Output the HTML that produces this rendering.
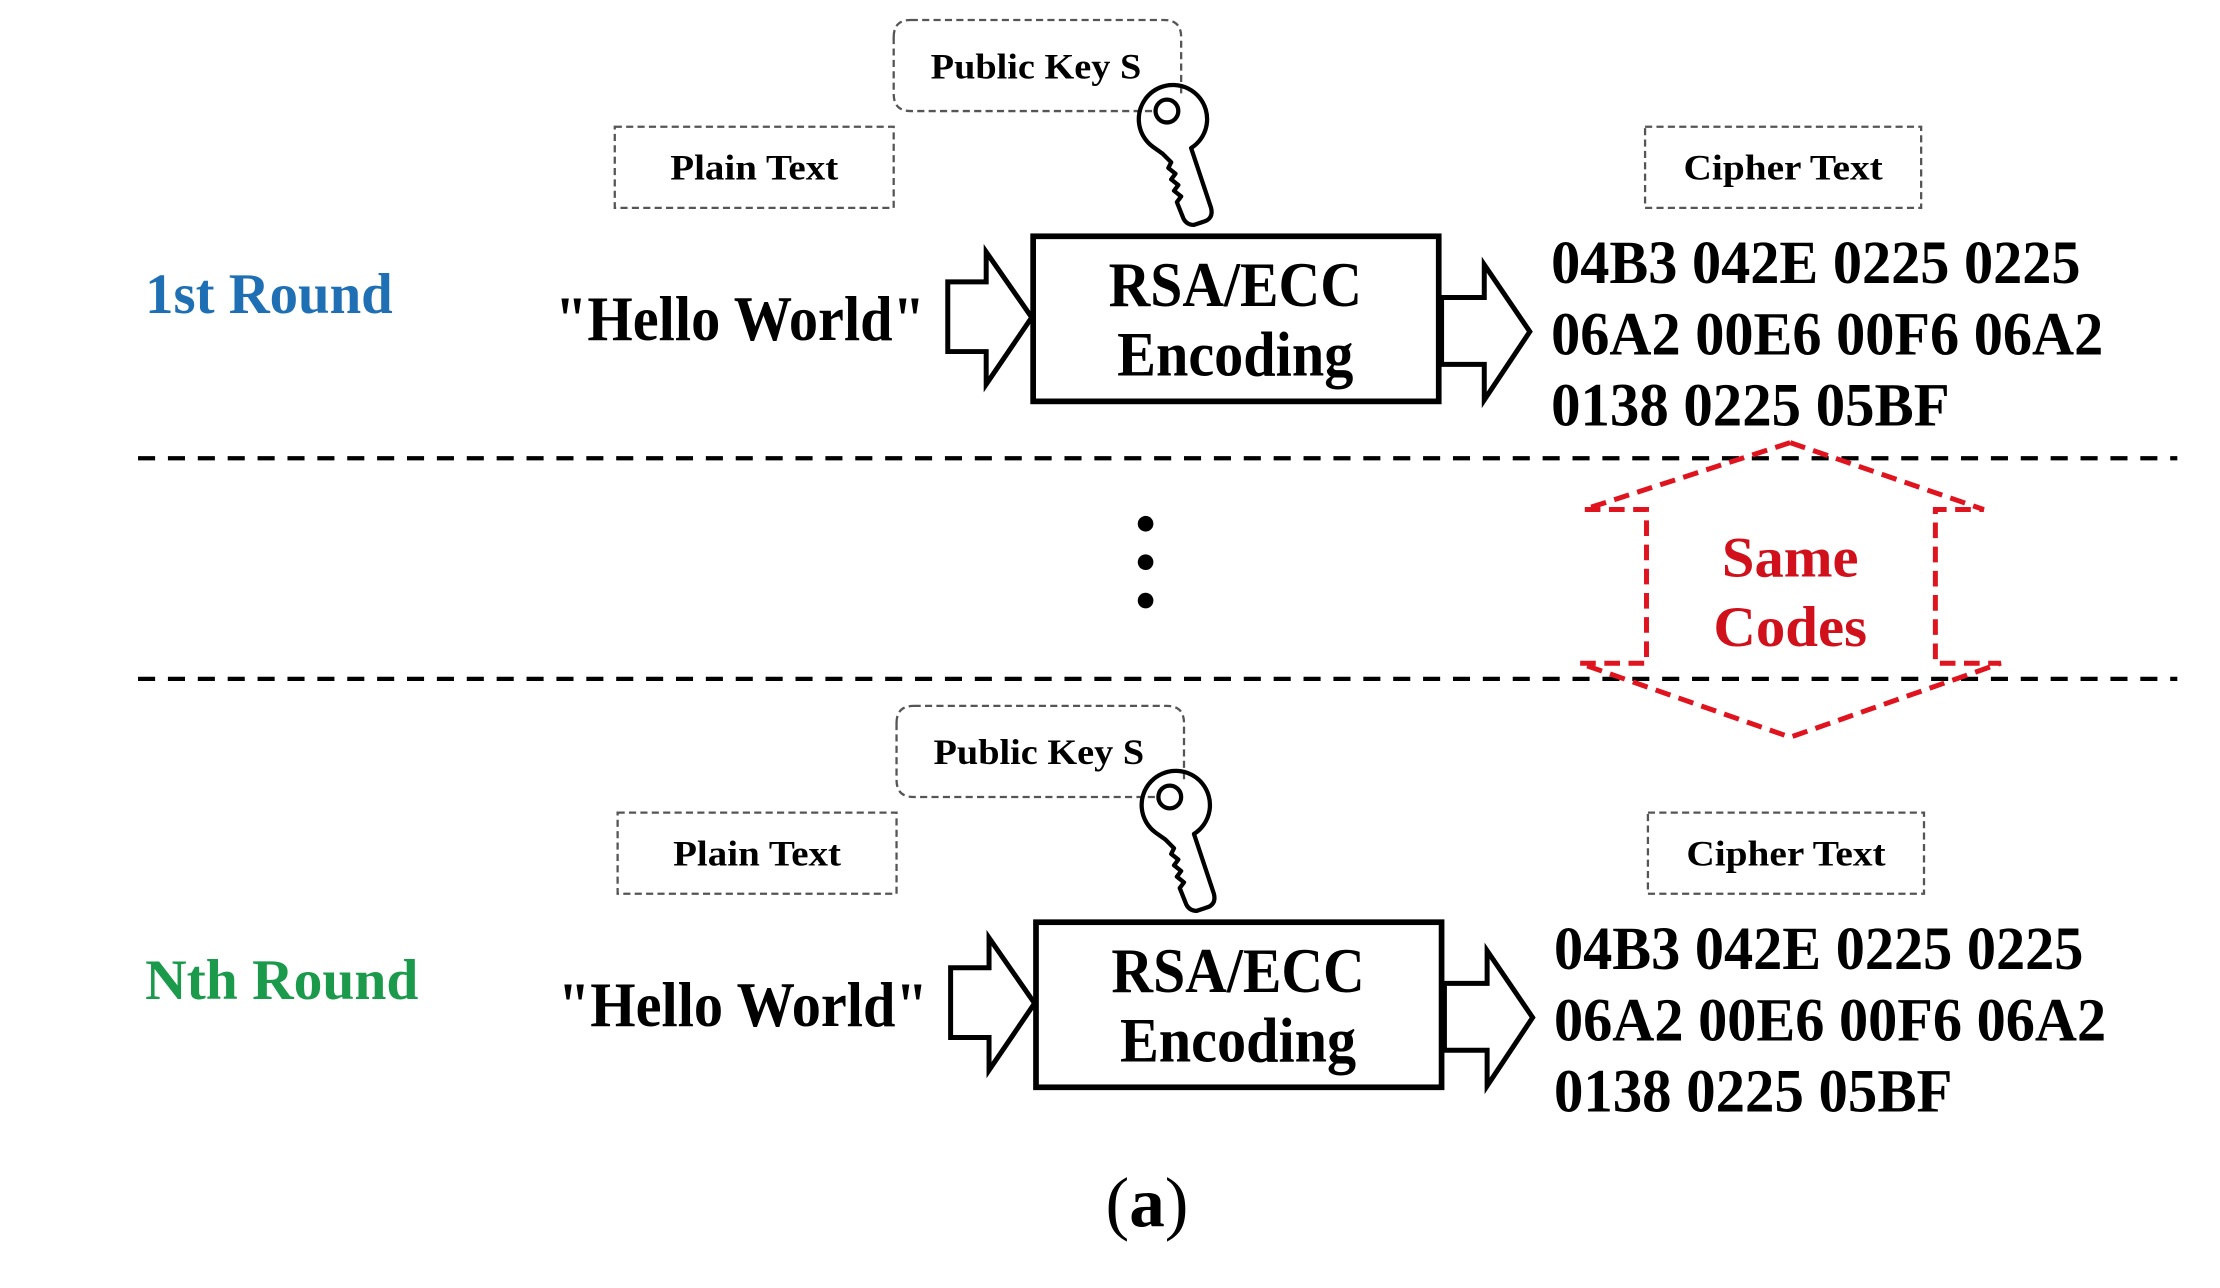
<!DOCTYPE html>
<html><head><meta charset="utf-8"><style>html,body{margin:0;padding:0;background:#fff}svg{display:block}</style></head>
<body>
<svg width="2220" height="1288" viewBox="0 0 1560 905" xmlns="http://www.w3.org/2000/svg">
<defs>
<g id="round">
  <path d="M640,14 H818 Q830,14 830,26 V66 M628,26 Q628,14 640,14 M628,26 V66 Q628,78 640,78 H812" fill="none" stroke="#555" stroke-width="1.6" stroke-dasharray="5,3"/>
  <text x="728" y="55" font-family="Liberation Serif" font-weight="bold" font-size="25" text-anchor="middle" textLength="148" lengthAdjust="spacingAndGlyphs">Public Key S</text>
  <rect x="432" y="89" width="196" height="57" fill="none" stroke="#555" stroke-width="1.6" stroke-dasharray="5,3"/>
  <text x="530" y="126" font-family="Liberation Serif" font-weight="bold" font-size="25" text-anchor="middle" textLength="118" lengthAdjust="spacingAndGlyphs">Plain Text</text>
  <rect x="1156" y="89" width="194" height="57" fill="none" stroke="#555" stroke-width="1.6" stroke-dasharray="5,3"/>
  <text x="1253" y="126" font-family="Liberation Serif" font-weight="bold" font-size="25" text-anchor="middle" textLength="140" lengthAdjust="spacingAndGlyphs">Cipher Text</text>
  <g fill="none" stroke="#000" stroke-width="3" stroke-linejoin="round">
    <path d="M810,103 A24,24 0 1 1 837,104 L851,146 Q853,154 845,156 L839,158 Q833,158 831,152 L827,142 L830,138 L825,134 L828,130 L823,126 L826,122 L821,118 L823,114 L817,108 Z"/>
    <circle cx="820" cy="78" r="8"/>
  </g>
  <text x="520" y="239" font-family="Liberation Serif" font-weight="bold" font-size="45" text-anchor="middle" textLength="260" lengthAdjust="spacingAndGlyphs">"Hello World"</text>
  <path d="M666,198 H693 V177 L725,223 L693,270 V247 H666 Z" fill="#fff" stroke="#000" stroke-width="3.5" stroke-linejoin="miter"/>
  <rect x="726" y="166" width="285" height="116" fill="#fff" stroke="#000" stroke-width="4"/>
  <text x="868" y="215" font-family="Liberation Serif" font-weight="bold" font-size="45" text-anchor="middle" textLength="178" lengthAdjust="spacingAndGlyphs">RSA/ECC</text>
  <text x="868" y="264" font-family="Liberation Serif" font-weight="bold" font-size="45" text-anchor="middle" textLength="166" lengthAdjust="spacingAndGlyphs">Encoding</text>
  <path d="M1013,209 H1043 V186 L1075,233 L1043,281 V256 H1013 Z" fill="#fff" stroke="#000" stroke-width="3.5"/>
  <g font-family="Liberation Serif" font-weight="bold" font-size="43">
    <text x="1090" y="199" textLength="372" lengthAdjust="spacingAndGlyphs">04B3 042E 0225 0225</text>
    <text x="1090" y="249" textLength="388" lengthAdjust="spacingAndGlyphs">06A2 00E6 00F6 06A2</text>
    <text x="1090" y="299" textLength="280" lengthAdjust="spacingAndGlyphs">0138 0225 05BF</text>
  </g>
</g>
</defs>
<rect width="1560" height="905" fill="#fff"/>
<use href="#round"/>
<use href="#round" transform="translate(2,482)"/>
<text x="102" y="220" font-family="Liberation Serif" font-weight="bold" font-size="40" fill="#1f6fb5" textLength="174" lengthAdjust="spacingAndGlyphs">1st Round</text>
<text x="102" y="702" font-family="Liberation Serif" font-weight="bold" font-size="40" fill="#1a9a4a" textLength="192" lengthAdjust="spacingAndGlyphs">Nth Round</text>
<line x1="97" y1="322" x2="1530" y2="322" stroke="#000" stroke-width="3" stroke-dasharray="12,9"/>
<line x1="97" y1="477" x2="1530" y2="477" stroke="#000" stroke-width="3" stroke-dasharray="12,9"/>
<circle cx="805" cy="368" r="5.5" fill="#000"/>
<circle cx="805" cy="395" r="5.5" fill="#000"/>
<circle cx="805" cy="422" r="5.5" fill="#000"/>
<path d="M1258,311 L1394,358 L1360,358 V466 L1406,466 L1258,518 L1110,466 L1157,466 V358 L1113,358 Z" fill="none" stroke="#e0141e" stroke-width="3.5" stroke-dasharray="11,6"/>
<text x="1258" y="405" font-family="Liberation Serif" font-weight="bold" font-size="40" fill="#d0101a" text-anchor="middle" textLength="96" lengthAdjust="spacingAndGlyphs">Same</text>
<text x="1258" y="454" font-family="Liberation Serif" font-weight="bold" font-size="40" fill="#d0101a" text-anchor="middle" textLength="108" lengthAdjust="spacingAndGlyphs">Codes</text>
<text x="806" y="862" font-family="Liberation Serif" font-size="50" text-anchor="middle">(<tspan font-weight="bold">a</tspan>)</text>
</svg>
</body></html>
